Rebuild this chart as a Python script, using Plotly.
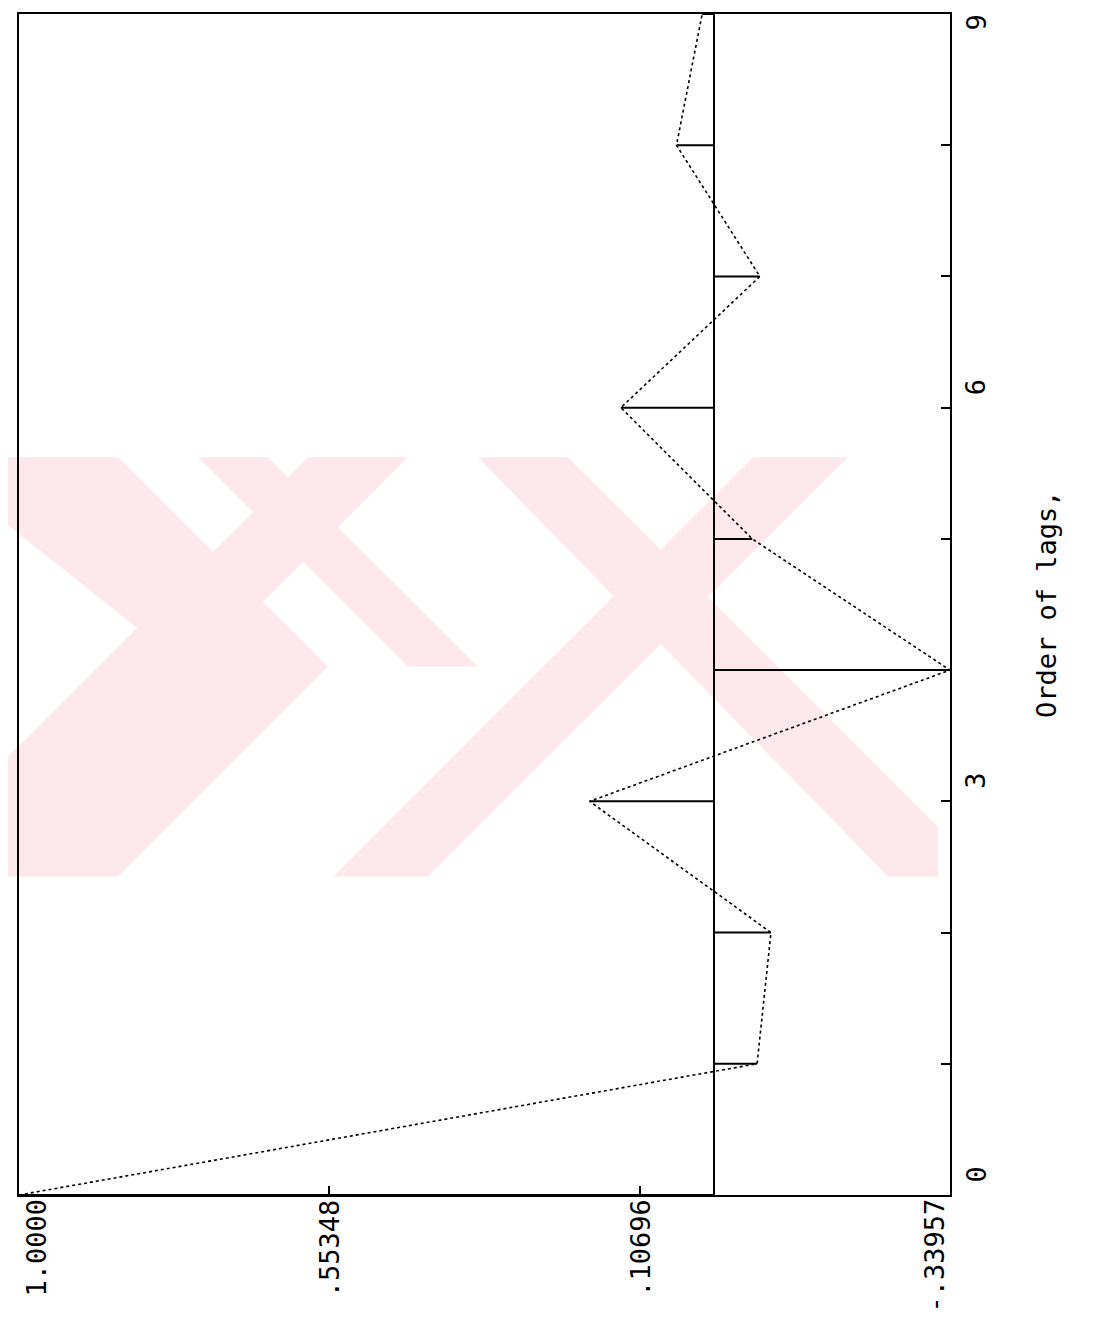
import plotly.graph_objects as go

# ---- data ----
lags = [0, 1, 2, 3, 4, 5, 6, 7, 8, 9]
acf = [1.0, -0.062, -0.082, 0.179, -0.33957, -0.055, 0.134, -0.066, 0.054, 0.017]
value_ticks = [1.0, 0.55348, 0.10696, -0.33957]
value_tick_text = ["1.0000", ".55348", ".10696", "-.33957"]
lag_label_vals = [0, 3, 6, 9]
lag_label_text = ["0", "3", "6", "9"]
axis_title = "Order of lags,"

W, H = 1097, 1320
L, R, T, B = 11, 942, 4, 1187  # plot area in pixels

def px(x):
    return (x - L) / (R - L)

def py(y):
    return (B - y) / (B - T)

def poly(points):
    d = "M " + " L ".join(f"{px(x):.4f},{py(y):.4f}" for x, y in points) + " Z"
    return dict(type="path", xref="paper", yref="paper", path=d,
                fillcolor="#fde9ed", line=dict(width=0), layer="below")

# faint watermark bands
shapes = [
    poly([(0, 448), (110, 448), (320, 658), (110, 868), (0, 868), (0, 800), (178, 658), (0, 516)]),
    poly([(300, 448), (400, 448), (-20, 868), (-120, 868)]),
    poly([(470, 448), (560, 448), (930, 818), (930, 868), (880, 868)]),
    poly([(745, 448), (840, 448), (420, 868), (325, 868)]),
    poly([(190, 448), (260, 448), (470, 658), (400, 658)]),
]

fig = go.Figure()

# stems
sx, sy = [], []
for lag, v in zip(lags, acf):
    sx += [0, v, None]
    sy += [lag, lag, None]
fig.add_trace(go.Scatter(x=sx, y=sy, mode="lines",
                         line=dict(color="black", width=2), hoverinfo="skip"))
# connecting line
fig.add_trace(go.Scatter(x=acf, y=lags, mode="lines",
                         line=dict(color="black", width=1.6, dash="dot")))

font = dict(family="DejaVu Sans Mono", size=27, color="black")

annotations = []
# value-axis labels (below the frame, rotated); end labels kept inside the frame span
n = len(value_ticks)
for i, (v, t) in enumerate(zip(value_ticks, value_tick_text)):
    xa = "left" if i == 0 else ("right" if i == n - 1 else "center")
    annotations.append(dict(x=v, xref="x", y=0, yref="paper", text=t, textangle=-90,
                            xanchor=xa, yanchor="top", yshift=-3, showarrow=False,
                            font=font, borderpad=0))
# lag-axis labels (right of the frame, rotated); top label kept inside
m = len(lag_label_vals)
for i, (v, t) in enumerate(zip(lag_label_vals, lag_label_text)):
    top = (i == m - 1)
    annotations.append(dict(x=1, xref="paper", y=v, yref="y", text=t, textangle=-90,
                            xanchor="left", xshift=9,
                            yanchor="top" if top else "bottom",
                            yshift=0 if top else 11,
                            showarrow=False, font=font, borderpad=0))
# axis title
annotations.append(dict(x=1, xref="paper", y=0.5, yref="paper", text=axis_title,
                        textangle=-90, xanchor="left", xshift=80, yanchor="middle",
                        showarrow=False, font=font, borderpad=0))

fig.update_layout(
    width=W, height=H,
    margin=dict(l=L, r=W - R, t=T, b=H - B),
    plot_bgcolor="white", paper_bgcolor="white",
    showlegend=False,
    shapes=shapes,
    annotations=annotations,
    xaxis=dict(range=[1.0, -0.33957], tickvals=value_ticks, showticklabels=False,
               ticks="inside", ticklen=9, tickwidth=2, tickcolor="black",
               showgrid=False, zeroline=True, zerolinecolor="black", zerolinewidth=2,
               showline=True, mirror=True, linecolor="black", linewidth=2),
    yaxis=dict(range=[0, 9], side="right", tickvals=lags, showticklabels=False,
               ticks="inside", ticklen=9, tickwidth=2, tickcolor="black",
               showgrid=False, zeroline=False,
               showline=True, mirror=True, linecolor="black", linewidth=2),
)

fig.write_html("out.html")
